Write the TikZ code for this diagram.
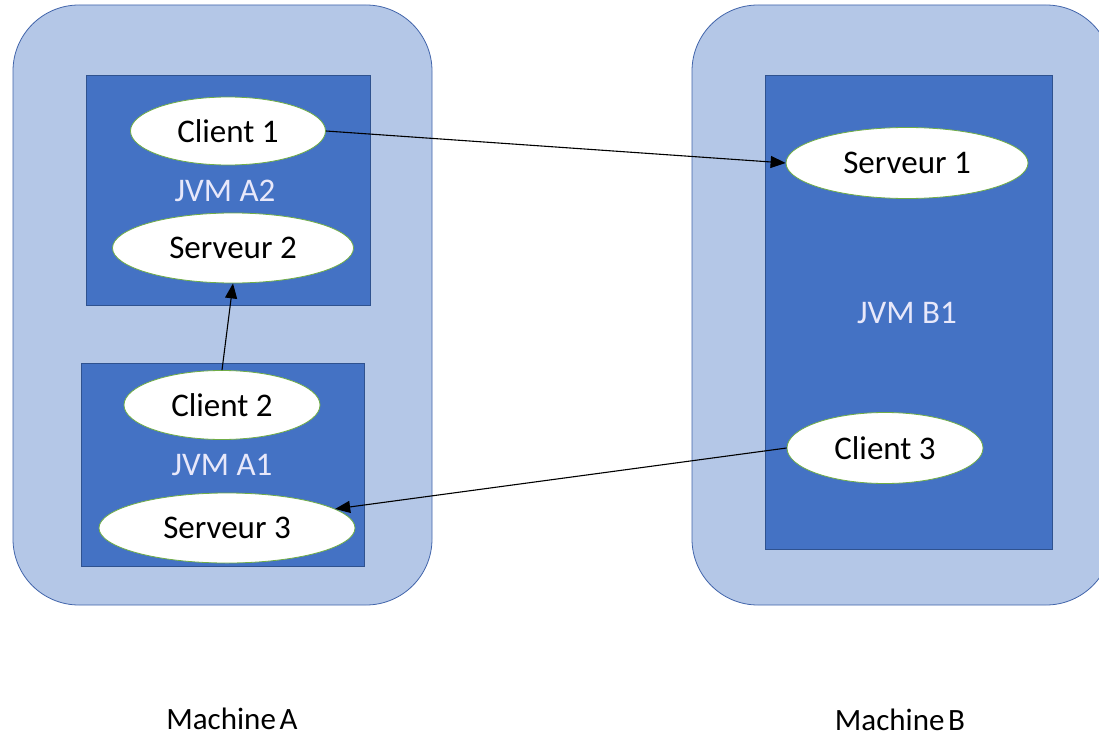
\documentclass[tikz,border=0pt]{standalone}
\usepackage{fontspec}
\setmainfont{Carlito}
\usetikzlibrary{shapes.geometric,arrows.meta}
\definecolor{machinefill}{RGB}{180,199,231}
\definecolor{machineline}{RGB}{65,100,170}
\definecolor{jvmfill}{RGB}{68,114,196}
\definecolor{jvmline}{RGB}{47,82,143}
\definecolor{ovalline}{RGB}{112,173,71}
\definecolor{jvmtext}{RGB}{232,232,250}
\tikzset{
  machine/.style={fill=machinefill, draw=machineline, line width=0.8pt, rounded corners=66pt},
  jvm/.style={fill=jvmfill, draw=jvmline, line width=0.8pt},
  proc/.style={ellipse, fill=white, draw=ovalline, line width=0.8pt, inner sep=0pt,
               font=\fontsize{33}{38}\selectfont},
  jvmlabel/.style={text=jvmtext, font=\fontsize{33}{38}\selectfont},
  machlabel/.style={anchor=base, inner sep=0pt, font=\fontsize{31}{36}\selectfont},
  link/.style={-{Triangle[length=15pt,width=12pt]}, line width=1.1pt, black}
}
\begin{document}
\begin{tikzpicture}[x=1pt,y=-1pt]
\useasboundingbox (0,0) rectangle (1099,738);
\clip (0,0) rectangle (1099,738);

% machines
\draw[machine] (13,5) rectangle (432,605);
\draw[machine] (692,5) rectangle (1112,605);

% JVMs
\draw[jvm] (86,75) rectangle (370,305);
\draw[jvm] (81,363) rectangle (364,566);
\draw[jvm] (765,75) rectangle (1052,549);

\node[jvmlabel] (ja2) at (225,191) {JVM A2};
\node[jvmlabel] (ja1) at (222,465) {JVM A1};
\node[jvmlabel] (jb1) at (907,313) {JVM B1};

% processes
\node[proc, minimum width=195pt, minimum height=68pt] (c1) at (228,131) {Client 1};
\node[proc, minimum width=241pt, minimum height=70pt] (s2) at (233,248) {Serveur 2};
\node[proc, minimum width=196pt, minimum height=69pt] (c2) at (222,405) {Client 2};
\node[proc, minimum width=256pt, minimum height=70pt] (s3) at (227,528) {Serveur 3};
\node[proc, minimum width=242pt, minimum height=71pt] (s1) at (907,163) {Serveur 1};
\node[proc, minimum width=196pt, minimum height=71pt] (c3) at (885,448) {Client 3};

% connections
\draw[link] (c1.east) -- (s1.west);
\draw[link] (c2.north) -- (s2.south);
\draw[link] (c3.west) -- (s3.10);

% machine names
\node[machlabel] (ma) at (232,729) {Machine\hspace{0.12em}A};
\node[machlabel] (mb) at (900,730) {Machine\hspace{0.12em}B};
\end{tikzpicture}
\end{document}
